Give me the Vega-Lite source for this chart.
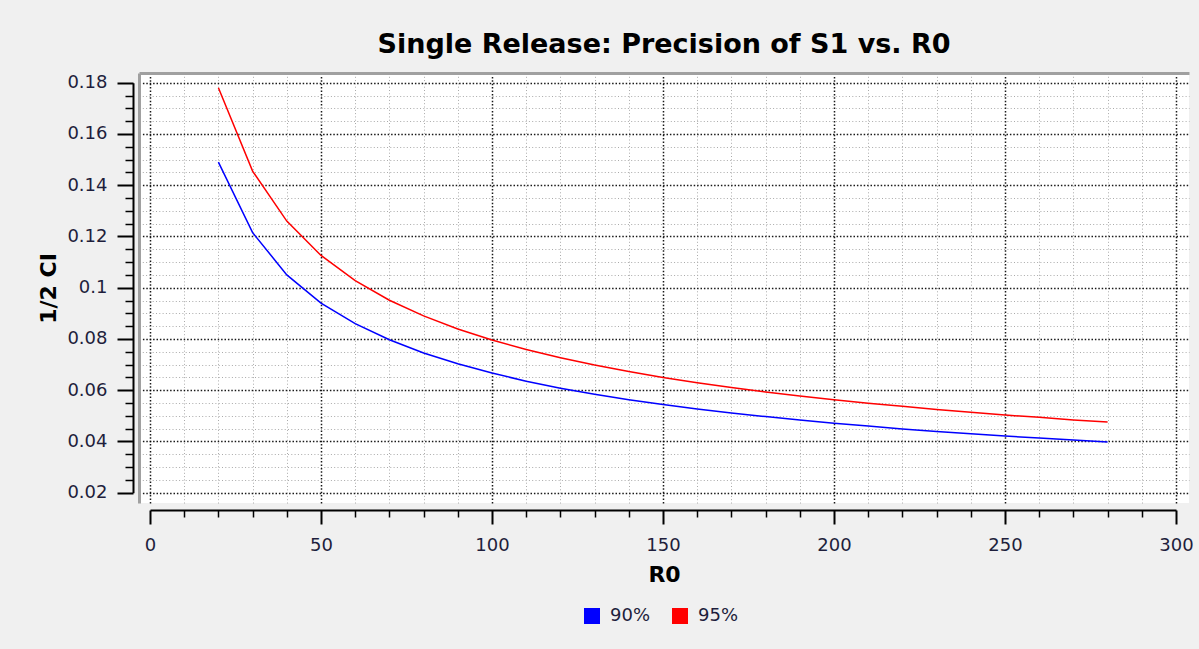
{
  "$schema": "https://vega.github.io/schema/vega-lite/v6.json",
  "width": 1050,
  "height": 430,
  "autosize": {"type": "none"},
  "padding": {"left": 139, "top": 73, "right": 10, "bottom": 146},
  "background": "#f0f0f0",
  "config": {"view": {"fill": "white", "stroke": null}, "font": "DejaVu Sans"},
  "title": {"text": "Single Release: Precision of S1 vs. R0", "fontSize": 27, "fontWeight": "bold", "font": "DejaVu Sans", "color": "#000000", "anchor": "middle", "frame": "group", "offset": 14},
  "data": {"values": [
    {"R0": 20, "ci": 0.149, "level": "90%"},
    {"R0": 30, "ci": 0.1215, "level": "90%"},
    {"R0": 40, "ci": 0.105, "level": "90%"},
    {"R0": 50, "ci": 0.094, "level": "90%"},
    {"R0": 60, "ci": 0.086, "level": "90%"},
    {"R0": 70, "ci": 0.0797, "level": "90%"},
    {"R0": 80, "ci": 0.0745, "level": "90%"},
    {"R0": 90, "ci": 0.0703, "level": "90%"},
    {"R0": 100, "ci": 0.0667, "level": "90%"},
    {"R0": 110, "ci": 0.0635, "level": "90%"},
    {"R0": 120, "ci": 0.0608, "level": "90%"},
    {"R0": 130, "ci": 0.0584, "level": "90%"},
    {"R0": 140, "ci": 0.0563, "level": "90%"},
    {"R0": 150, "ci": 0.0544, "level": "90%"},
    {"R0": 160, "ci": 0.0527, "level": "90%"},
    {"R0": 170, "ci": 0.0511, "level": "90%"},
    {"R0": 180, "ci": 0.0497, "level": "90%"},
    {"R0": 190, "ci": 0.0484, "level": "90%"},
    {"R0": 200, "ci": 0.0471, "level": "90%"},
    {"R0": 210, "ci": 0.046, "level": "90%"},
    {"R0": 220, "ci": 0.0449, "level": "90%"},
    {"R0": 230, "ci": 0.0439, "level": "90%"},
    {"R0": 240, "ci": 0.043, "level": "90%"},
    {"R0": 250, "ci": 0.0421, "level": "90%"},
    {"R0": 260, "ci": 0.0413, "level": "90%"},
    {"R0": 270, "ci": 0.0406, "level": "90%"},
    {"R0": 280, "ci": 0.0398, "level": "90%"},
    {"R0": 20, "ci": 0.178, "level": "95%"},
    {"R0": 30, "ci": 0.1455, "level": "95%"},
    {"R0": 40, "ci": 0.126, "level": "95%"},
    {"R0": 50, "ci": 0.1126, "level": "95%"},
    {"R0": 60, "ci": 0.1028, "level": "95%"},
    {"R0": 70, "ci": 0.0951, "level": "95%"},
    {"R0": 80, "ci": 0.089, "level": "95%"},
    {"R0": 90, "ci": 0.0839, "level": "95%"},
    {"R0": 100, "ci": 0.0796, "level": "95%"},
    {"R0": 110, "ci": 0.0759, "level": "95%"},
    {"R0": 120, "ci": 0.0727, "level": "95%"},
    {"R0": 130, "ci": 0.0698, "level": "95%"},
    {"R0": 140, "ci": 0.0673, "level": "95%"},
    {"R0": 150, "ci": 0.065, "level": "95%"},
    {"R0": 160, "ci": 0.0629, "level": "95%"},
    {"R0": 170, "ci": 0.0611, "level": "95%"},
    {"R0": 180, "ci": 0.0593, "level": "95%"},
    {"R0": 190, "ci": 0.0577, "level": "95%"},
    {"R0": 200, "ci": 0.0563, "level": "95%"},
    {"R0": 210, "ci": 0.0549, "level": "95%"},
    {"R0": 220, "ci": 0.0537, "level": "95%"},
    {"R0": 230, "ci": 0.0525, "level": "95%"},
    {"R0": 240, "ci": 0.0514, "level": "95%"},
    {"R0": 250, "ci": 0.0503, "level": "95%"},
    {"R0": 260, "ci": 0.0494, "level": "95%"},
    {"R0": 270, "ci": 0.0484, "level": "95%"},
    {"R0": 280, "ci": 0.0476, "level": "95%"}
  ]},
  "resolve": {"axis": {"x": "independent", "y": "independent"}},
  "layer": [
    {
      "mark": {"type": "line", "strokeOpacity": 0},
      "encoding": {
        "x": {"field": "R0", "type": "quantitative",
          "scale": {"domain": [-3.216, 303.8], "nice": false, "zero": false},
          "axis": {"orient": "bottom", "values": [10,20,30,40,60,70,80,90,110,120,130,140,160,170,180,190,210,220,230,240,260,270,280,290],
            "grid": true, "gridColor": "#aaaaaa", "gridDash": [1, 2.3], "gridWidth": 1,
            "ticks": true, "tickSize": 7, "tickWidth": 1.5, "tickColor": "#000000", "offset": 7,
            "domain": false, "labels": false, "title": null}},
        "y": {"field": "ci", "type": "quantitative",
          "scale": {"domain": [0.01598, 0.18379], "nice": false, "zero": false},
          "axis": {"orient": "left", "values": [0.025,0.03,0.035,0.045,0.05,0.055,0.065,0.07,0.075,0.085,0.09,0.095,0.105,0.11,0.115,0.125,0.13,0.135,0.145,0.15,0.155,0.165,0.17,0.175],
            "grid": true, "gridColor": "#aaaaaa", "gridDash": [1, 2.3], "gridWidth": 1,
            "ticks": true, "tickSize": 8, "tickWidth": 1.5, "tickColor": "#000000", "offset": 6,
            "domain": false, "labels": false, "title": null}},
        "detail": {"field": "level"}
      }
    },
    {
      "mark": {"type": "line", "strokeOpacity": 0},
      "encoding": {
        "x": {"field": "R0", "type": "quantitative",
          "scale": {"domain": [-3.216, 303.8], "nice": false, "zero": false},
          "axis": {"orient": "top", "values": [], "grid": false, "ticks": false, "labels": false, "title": null,
            "domain": true, "domainColor": "#a0a0a0", "domainWidth": 3}},
        "y": {"field": "ci", "type": "quantitative",
          "scale": {"domain": [0.01598, 0.18379], "nice": false, "zero": false},
          "axis": {"orient": "left", "values": [], "grid": false, "ticks": false, "labels": false, "title": null,
            "domain": true, "domainColor": "#a0a0a0", "domainWidth": 3, "offset": 0}},
        "detail": {"field": "level"}
      }
    },
    {
      "mark": {"type": "line", "strokeWidth": 1.5},
      "encoding": {
        "x": {"field": "R0", "type": "quantitative",
          "scale": {"domain": [-3.216, 303.8], "nice": false, "zero": false},
          "axis": {"orient": "bottom", "values": [0,50,100,150,200,250,300], "format": "d",
            "grid": true, "gridColor": "#000000", "gridDash": [1.5, 1.9], "gridWidth": 1.5, "gridOpacity": 0.9,
            "ticks": true, "tickSize": 14, "tickWidth": 2, "tickColor": "#000000", "offset": 7,
            "domain": true, "domainColor": "#000000", "domainWidth": 2, "domainDash": [1026, 20000], "domainDashOffset": -11,
            "labelFontSize": 18, "labelColor": "#1e1e3c", "labelPadding": 12, "labelFont": "DejaVu Sans",
            "title": "R0", "titleFontSize": 22, "titleFontWeight": "bold", "titleColor": "#000000", "titlePadding": 10, "titleFont": "DejaVu Sans"}},
        "y": {"field": "ci", "type": "quantitative",
          "scale": {"domain": [0.01598, 0.18379], "nice": false, "zero": false},
          "axis": {"orient": "left", "values": [0.02,0.04,0.06,0.08,0.1,0.12,0.14,0.16,0.18], "format": "~g",
            "grid": true, "gridColor": "#000000", "gridDash": [1.5, 1.9], "gridWidth": 1.5, "gridOpacity": 0.9,
            "ticks": true, "tickSize": 16, "tickWidth": 2, "tickColor": "#000000", "offset": 6,
            "domain": true, "domainColor": "#000000", "domainWidth": 2, "domainDash": [410, 20000], "domainDashOffset": -10.3,
            "labelFontSize": 18, "labelColor": "#1e1e3c", "labelPadding": 10, "labelFont": "DejaVu Sans",
            "title": "1/2 CI", "titleFontSize": 22, "titleFontWeight": "bold", "titleColor": "#000000", "titlePadding": 6, "titleFont": "DejaVu Sans"}},
        "color": {"field": "level", "type": "nominal",
          "scale": {"domain": ["90%", "95%"], "range": ["#0000ff", "#ff0000"]},
          "legend": {"orient": "none", "legendX": 444, "legendY": 534, "direction": "horizontal", "title": null,
            "symbolType": "square", "symbolSize": 256, "labelFontSize": 18, "labelColor": "#1e1e3c", "labelFont": "DejaVu Sans",
            "labelOffset": 9, "columnPadding": 20,
            "encode": {"symbols": {"update": {"fill": {"scale": "color", "field": "value"}, "strokeWidth": {"value": 0}}}}}}
      }
    }
  ]
}
